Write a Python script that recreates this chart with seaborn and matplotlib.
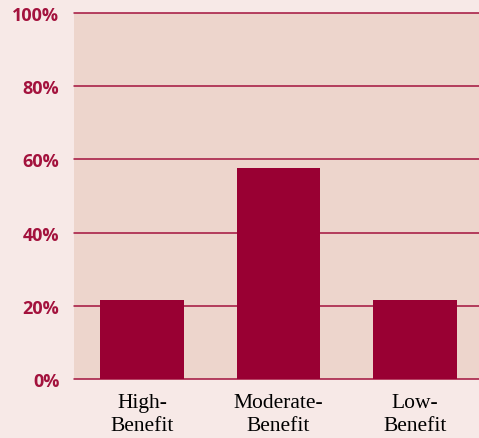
import matplotlib
matplotlib.use("Agg")
import matplotlib.pyplot as plt
import seaborn as sns
import pandas as pd

categories = ["High-\nBenefit", "Moderate-\nBenefit", "Low-\nBenefit"]
values = [21.7, 57.7, 21.7]
yticks = [0, 20, 40, 60, 80, 100]
ytick_labels = ["0%", "20%", "40%", "60%", "80%", "100%"]

df = pd.DataFrame({"cat": categories, "val": values})

sns.set_style("white")
fig = plt.figure(figsize=(4.79, 4.39), dpi=100, facecolor="#F7E9E7")
ax = fig.add_axes([74/479, 59/439, 1 - 74/479, 366/439])
ax.set_facecolor("#EDD5CC")

sns.barplot(data=df, x="cat", y="val", color="#990033", width=0.615,
            saturation=1, ax=ax, zorder=3, linewidth=0, edgecolor="none")

ax.set_ylim(0, 100)
ax.set_xlim(-0.5, 2.47)
ax.set_yticks(yticks)
ax.set_yticklabels(ytick_labels, fontsize=13, fontweight="bold",
                   color="#A3123D", family="Open Sans")
for y in yticks:
    ax.axhline(y, color="#A3123D", lw=1.1, zorder=2, clip_on=False)
ax.tick_params(axis="y", length=0, pad=10.5)
ax.tick_params(axis="x", length=0, pad=10)
for lbl in ax.get_xticklabels():
    lbl.set_family("Liberation Serif")
    lbl.set_fontsize(15.5)
    lbl.set_color("black")
    lbl.set_linespacing(1.3)
ax.set_xlabel("")
ax.set_ylabel("")
for s in ax.spines.values():
    s.set_visible(False)

fig.savefig("out.png", dpi=100, facecolor=fig.get_facecolor())
